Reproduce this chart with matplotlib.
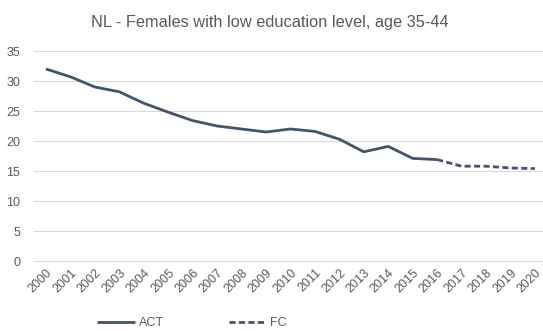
import matplotlib
matplotlib.use("Agg")
import matplotlib.pyplot as plt

years = list(range(2000, 2021))
act_years = list(range(2000, 2017))
act = [32.0, 30.7, 29.0, 28.2, 26.3, 24.8, 23.4, 22.5, 22.0, 21.5, 22.0, 21.6, 20.3, 18.2, 19.1, 17.1, 16.9]
fc_years = list(range(2016, 2021))
fc = [16.9, 15.8, 15.8, 15.5, 15.4]
title = "NL - Females with low education level, age 35-44"

color = "#44546A"
gray = "#595959"
plt.rcParams['font.family'] = ['Liberation Sans', 'DejaVu Sans']

fig = plt.figure(figsize=(5.43, 3.31), dpi=100)
ax = fig.add_axes([34/543, 70/331, 509/543, 210/331])
ax.plot(act_years, act, color=color, lw=2.0, label="ACT", solid_capstyle='butt')
ax.plot(fc_years, fc, color=color, lw=2.0, ls=(0, (2.2, 1.2)), label="FC")
ax.set_xlim(1999.51, 2020.33)
ax.set_ylim(0, 35)
ax.set_yticks(range(0, 36, 5))
ax.set_xticks(years)
ax.set_xticklabels([str(y) for y in years], rotation=45, ha='right', rotation_mode='anchor')
ax.grid(axis='y', color='#D9D9D9', lw=0.8)
ax.set_axisbelow(True)
for s in ax.spines.values():
    s.set_visible(False)
ax.spines['bottom'].set_visible(True)
ax.spines['bottom'].set_color('#D9D9D9')
ax.tick_params(length=0, colors=gray, labelsize=9)
ax.tick_params(axis='x', pad=4)
ax.tick_params(axis='y', pad=10)
fig.text(270/543, 1 - 22/331, title, ha='center', va='center', fontsize=11.8, color=gray)
fig.legend(loc='center', bbox_to_anchor=(192/543, 1 - 323/331), ncol=2, frameon=False,
           fontsize=9, handlelength=3.0, columnspacing=5.2, labelcolor=gray, handletextpad=0.3)
fig.savefig("out.png", dpi=100)
